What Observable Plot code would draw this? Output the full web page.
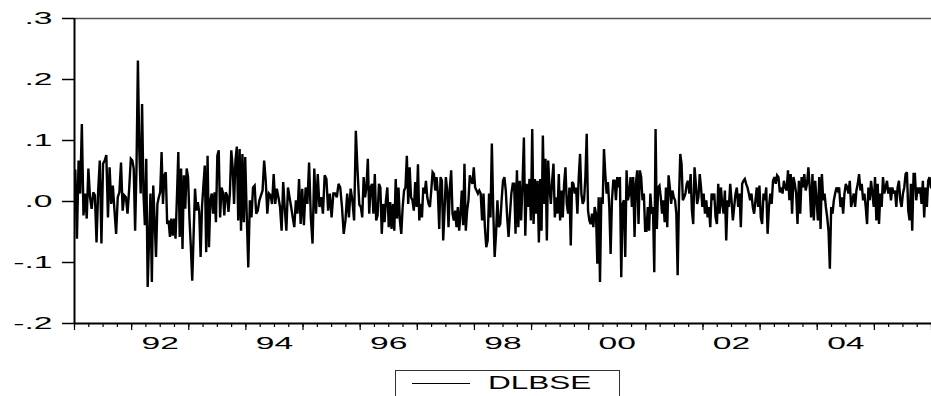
<!DOCTYPE html>
<html><head><meta charset="utf-8">
<script src="https://cdn.jsdelivr.net/npm/d3@7"></script>
<script src="https://cdn.jsdelivr.net/npm/@observablehq/plot@0.6"></script>
<style>
body{margin:0;background:#fff;font-family:"Liberation Sans",Arial,sans-serif;}
#chart{width:931px;height:396px;position:relative;overflow:hidden;background:#fff}
#legend{position:absolute;left:395px;top:370px;width:225px;height:30px;border:1px solid #333;box-sizing:border-box;background:#fff}
#legend .sw{position:absolute;left:16px;top:12px;width:58px;border-top:1px solid #000}
#legend .tx{position:absolute;left:92px;top:2px;font-size:18px;line-height:21px;color:#000;transform:scaleX(1.75);transform-origin:0 0;white-space:nowrap}
</style></head><body><div id="chart"></div>
<script>
// Series DLBSE, values read per year (spread evenly within each year)
const v1991 = [0.051,-0.061,0.067,0.013,0.127,-0.023,0.013,-0.028,0.054,0.007,-0.012,0.015,0.010,-0.067,0.018,0.067,-0.069,0.062,0.067,0.076,-0.026,0.056,-0.004,0.026,-0.015,-0.053,0.007,0.015,0.064,-0.015,0.010,0.007,-0.020,0.021,0.070];
const v1992 = [0.067,0.054,-0.048,0.056,0.231,0.084,0.013,0.160,0.013,-0.039,0.070,-0.140,-0.064,0.013,-0.132,0.026,-0.031,-0.091,-0.004,0.007,0.015,0.081,-0.004,0.043,0.048,-0.037,-0.031,-0.058,-0.028,-0.056,-0.028,-0.061,0.007,0.081,-0.058,0.054,-0.078,0.043,-0.012,0.054,0.040];
const v1993 = [-0.028,-0.075,-0.130,-0.053,0.021,-0.015,-0.001,-0.017,-0.091,-0.009,0.026,0.059,-0.083,0.075,-0.075,0.002,0.013,-0.020,0.015,-0.034,0.075,0.084,-0.026,0.023,0.015,-0.023,0.015,0.010,-0.017,0.013,0.084,0.056,-0.004,0.067,0.090,-0.031,0.086,-0.048,0.078,-0.034,0.073];
const v1994 = [-0.020,-0.108,0.002,-0.026,0.023,0.026,-0.020,-0.015,0.002,0.010,0.018,0.067,0.034,-0.020,0.013,0.010,-0.004,0.045,-0.004,0.021,0.007,-0.009,-0.048,0.032,-0.012,-0.048,0.023,0.007,-0.009,-0.026,-0.042,0.002,-0.020,0.037,-0.037,0.021];
const v1995 = [-0.039,0.023,-0.004,0.064,-0.026,-0.069,0.054,-0.020,0.045,-0.009,0.007,-0.020,0.043,0.037,-0.015,0.013,-0.026,0.013,0.013,0.007,0.029,0.023,-0.009,-0.053,-0.031,0.013,-0.026,0.021,0.002,-0.031,0.116,0.050,-0.005];
const v1996 = [-0.009,-0.026,0.040,0.007,0.023,0.070,-0.020,0.023,0.029,-0.020,0.045,-0.031,-0.023,0.029,0.023,-0.053,-0.004,-0.034,0.002,0.023,-0.042,-0.001,-0.045,-0.004,-0.048,0.037,-0.028,0.023,-0.031,-0.053,-0.009,0.018,0.023,0.075,-0.004,0.056,0.007,0.002,-0.015,0.032,-0.009];
const v1997 = [0.061,-0.031,-0.004,-0.026,0.023,0.013,0.034,0.007,-0.004,-0.009,0.018,0.048,0.045,0.018,0.040,0.013,-0.045,0.040,0.034,-0.064,-0.015,0.040,0.018,-0.042,0.023,0.051,-0.020,-0.031,-0.015,-0.042,-0.009,-0.048,-0.020,0.018,-0.039,0.062,-0.048,-0.015,0.002,0.043,0.034,0.029,0.056];
const v1998 = [0.023,0.018,0.013,0.018,0.013,-0.031,0.013,-0.042,-0.075,-0.064,0.013,-0.026,0.095,-0.015,-0.091,-0.053,0.002,-0.042,-0.037,0.002,0.034,0.040,0.018,-0.026,-0.058,-0.020,0.013,0.029,0.029,-0.053,0.051,-0.042,0.034,-0.031,0.029,0.105,-0.056,0.029,-0.009,0.037,-0.031];
const v1999 = [0.119,-0.037,0.037,-0.020,0.034,-0.067,0.037,-0.048,0.108,-0.004,0.070,-0.064,0.067,0.023,-0.004,0.034,0.062,-0.026,0.007,-0.020,0.045,-0.031,0.018,-0.026,0.029,0.056,-0.004,-0.020,0.023,-0.072,0.032,0.029,0.013,0.023,-0.020,0.040,0.078,0.013,-0.004,0.002,0.040,0.111,-0.015];
const v2000 = [-0.031,-0.037,-0.020,-0.042,-0.009,-0.020,-0.102,0.007,-0.132,0.007,-0.004,0.086,0.045,0.013,0.032,-0.009,-0.086,0.002,0.034,0.034,0.002,0.040,0.023,0.040,-0.124,-0.004,0.002,-0.091,0.051,0.002,0.013,0.040,-0.009,0.040,-0.058,0.029,0.051,-0.037,0.051,0.040,0.002,0.013,-0.048];
const v2001 = [-0.048,-0.009,-0.048,0.013,-0.020,-0.009,-0.116,0.119,-0.045,0.023,0.026,0.007,-0.020,0.002,-0.034,0.023,-0.042,0.043,0.023,-0.004,0.018,0.007,0.002,-0.020,-0.121,0.002,0.078,0.062,0.002,0.007,0.013,0.029,0.034,0.013,0.045,-0.015,-0.037,0.056,0.029,-0.004,0.007,0.045,0.023,-0.009];
const v2002 = [0.013,-0.020,0.002,-0.026,-0.009,-0.042,0.013,0.007,0.013,-0.026,-0.037,0.029,-0.020,0.023,-0.004,-0.020,0.018,-0.064,0.002,-0.009,0.029,0.002,-0.031,-0.009,0.013,0.023,-0.009,0.013,-0.042,0.029,0.034,0.037,0.029,0.023,0.013,0.002,0.013,-0.009,-0.020,0.002,0.023,-0.009,0.026];
const v2003 = [-0.026,-0.037,0.013,0.002,0.023,-0.053,-0.009,0.013,-0.004,0.034,0.040,0.029,0.043,0.040,0.015,0.023,0.013,0.034,0.023,0.018,0.051,0.002,0.045,-0.020,0.040,0.029,0.013,-0.037,0.034,-0.020,0.040,0.023,0.045,0.018,0.029,0.056,0.023,-0.026,0.045,-0.031,0.034,0.002];
const v2004 = [-0.031,0.040,-0.045,0.045,0.002,0.013,-0.009,-0.026,-0.048,-0.110,-0.009,-0.020,0.002,0.013,0.023,0.018,0.023,-0.009,0.007,-0.020,0.013,0.029,0.023,0.013,0.034,-0.009,0.002,0.013,-0.009,0.018,0.029,0.045,0.018,0.029,0.002,0.013,-0.009,-0.037,0.023,0.002,0.034,0.013,-0.009];
const v2005 = [0.040,-0.031,0.029,-0.037,0.013,-0.009,0.040,0.013,0.023,0.034,0.013,0.023,0.002,0.023,0.013,0.018,-0.009,0.023,0.034,0.002,-0.009,0.013,0.023,0.045,0.048,-0.015,-0.031,0.029,-0.048,0.045,0.045,0.002,0.023,0.013,0.023,-0.004,0.034,-0.026,0.023,-0.009,0.034,0.040,0.023];

const years = [1991,1992,1993,1994,1995,1996,1997,1998,1999,2000,2001,2002,2003,2004,2005];
const yearValues = [v1991,v1992,v1993,v1994,v1995,v1996,v1997,v1998,v1999,v2000,v2001,v2002,v2003,v2004,v2005];

const yTicks = [-0.2,-0.1,0.0,0.1,0.2,0.3];
const yTickLabels = ["-.2","-.1",".0",".1",".2",".3"];
const xLabelYears = [1992,1994,1996,1998,2000,2002,2004];
const xLabels = ["92","94","96","98","00","02","04"];
const seriesName = "DLBSE";

const data = [];
years.forEach((yr, k) => {
  const arr = yearValues[k];
  arr.forEach((v, i) => data.push({t: yr + (i + 0.5) / arr.length, v}));
});

const yearTicks = d3.range(1991, 2007);
const quarterTicks = d3.range(0, 61).map(i => 1991 + i / 4);
const labelPos = xLabelYears.map(y => y + 0.5);
const xLabelMap = new Map(labelPos.map((p, i) => [p, xLabels[i]]));
const yLabelMap = new Map(yTicks.map((t, i) => [t, yTickLabels[i]]));

const plot = Plot.plot({
  width: 931, height: 368,
  marginLeft: 74, marginRight: 0, marginTop: 18, marginBottom: 45,
  x: {domain: [1991, 2006], axis: null, label: null},
  y: {domain: [-0.2, 0.3], axis: null, label: null},
  style: {fontFamily: "'Liberation Sans', Arial, sans-serif", fontSize: "16px", color: "#000", background: "#fff", overflow: "visible"},
  marks: [
    Plot.ruleY([0.3], {stroke: "#555", strokeWidth: 1.5}),
    Plot.line(data, {x: "t", y: "v", stroke: "#000", strokeWidth: 2.4, strokeLinejoin: "miter", strokeMiterlimit: 3}),
    Plot.axisY(yTicks, {tickSize: 12, tickPadding: 10, tickFormat: d => yLabelMap.get(d), stroke: "#000", strokeWidth: 1.5, fill: "#000", fontSize: 16, label: null}),
    Plot.axisX(quarterTicks, {tickSize: 4, tickFormat: () => "", stroke: "#000", strokeWidth: 1.2, label: null}),
    Plot.axisX(yearTicks, {tickSize: 7, tickFormat: () => "", stroke: "#000", strokeWidth: 1.2, label: null}),
    Plot.axisX(labelPos, {tickSize: 0, tickPadding: 14, tickFormat: d => xLabelMap.get(d), fill: "#000", fontSize: 16, label: null}),
    Plot.ruleX([1991], {stroke: "#000", strokeWidth: 2}),
    Plot.ruleY([-0.2], {stroke: "#000", strokeWidth: 2})
  ]
});

// horizontally stretched tick labels (as in the original image)
const SX = 2.1;
plot.querySelectorAll('g[aria-label$="tick label"] text').forEach(el => {
  if (!el.textContent) return;
  let tr = el.getAttribute("transform");
  if (!tr) {
    const x = el.getAttribute("x") || 0, y = el.getAttribute("y") || 0;
    el.removeAttribute("x");
    tr = `translate(${x},${y})`;
    if (el.getAttribute("y")) { el.removeAttribute("y"); }
  }
  el.setAttribute("transform", tr + ` scale(${SX},1)`);
});

const chart = document.getElementById("chart");
chart.appendChild(plot);
const legend = document.createElement("div");
legend.id = "legend";
legend.innerHTML = `<div class="sw"></div><div class="tx">${seriesName}</div>`;
chart.appendChild(legend);
</script></body></html>
